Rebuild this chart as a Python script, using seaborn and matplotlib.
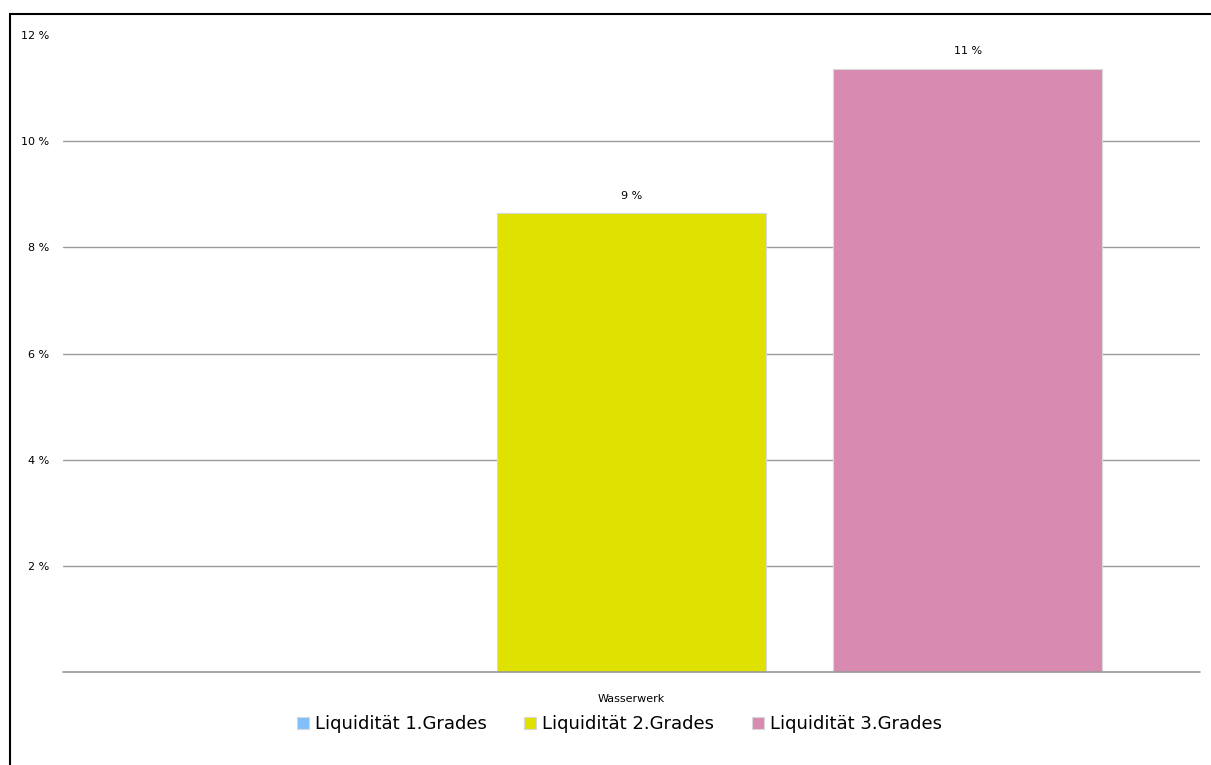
import matplotlib
matplotlib.use("Agg")
import matplotlib.pyplot as plt
import seaborn as sns
import pandas as pd
from matplotlib.patches import Rectangle

category = "Wasserwerk"
series = ["Liquidität 1.Grades", "Liquidität 2.Grades", "Liquidität 3.Grades"]
values = [0.0, 8.64, 11.36]
colors = ["#80BFF8", "#DFE100", "#D98AB1"]
yticks = [2, 4, 6, 8, 10, 12]
ytick_labels = ["2 %", "4 %", "6 %", "8 %", "10 %", "12 %"]

df = pd.DataFrame({"cat": [category] * len(series), "series": series, "value": values})

sns.set_theme(style="white")
plt.rcParams['font.family'] = ['DejaVu Sans']

fig = plt.figure(figsize=(12.11, 7.65), dpi=100)
ax = fig.add_axes([63 / 1211, 1 - 672 / 765, (1200 - 63) / 1211, (672 - 35) / 765])

sns.barplot(data=df, x="cat", y="value", hue="series", palette=colors,
            width=0.887, gap=0.2, ax=ax, legend=True, saturation=1,
            edgecolor="#d8d8d8", linewidth=0.8)

ax.set_xlim(-0.5, 0.5)
ax.set_ylim(0, 12)
ax.set_yticks(yticks)
ax.set_yticklabels(ytick_labels, fontsize=8, color="black")
for y in yticks[:-1]:
    ax.axhline(y, color="#9a9a9a", linewidth=1, zorder=0)
ax.axhline(0, color="#9a9a9a", linewidth=1.2, zorder=3, clip_on=False)
ax.tick_params(axis="y", length=0, pad=10)
ax.tick_params(axis="x", length=0, labelbottom=False)
for s in ax.spines.values():
    s.set_visible(False)
ax.set_ylabel("")
ax.set_xlabel(category, fontsize=8, labelpad=16, color="black")

for cont, v in zip(ax.containers, values):
    lab = [f"{round(v):d} %"] if v > 0 else [""]
    ax.bar_label(cont, labels=lab, padding=9, fontsize=8, color="black")

handles, labels = ax.get_legend_handles_labels()
leg = ax.legend(handles, labels, loc="center", bbox_to_anchor=(0.4894, -52 / 637),
                ncol=3, frameon=False, fontsize=13, handlelength=0.66, handleheight=0.66,
                handletextpad=0.33, columnspacing=2.1, borderpad=0)
for t in leg.get_texts():
    t.set_color("black")

fig.add_artist(Rectangle((10 / 1211, -0.1), 1.2, 1 - 14 / 765 + 0.1,
                         transform=fig.transFigure, fill=False,
                         edgecolor="black", linewidth=1.5))

fig.savefig("out.png", dpi=100)
